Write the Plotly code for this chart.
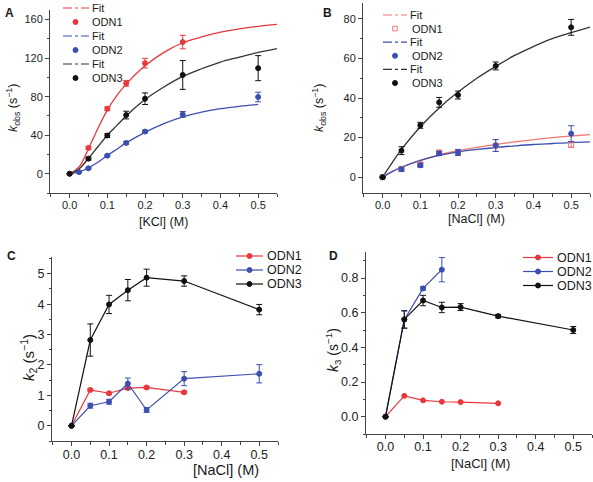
import plotly.graph_objects as go

RED = "#e8383d"
BLUE = "#3b4fb0"
BLACK = "#111111"
PINK = "#f07878"
FITBLK = "#333333"

# ---------- Panel A: KCl ----------
a_x = [0, 0.05, 0.1, 0.15, 0.2, 0.3, 0.5]
a_odn1_x = [0, 0.05, 0.1, 0.15, 0.2, 0.3]
a_odn1 = [0, 26.8, 67.5, 93.9, 114.8, 136.7]
a_odn1_err = [0, 1.5, 2, 3, 5, 7]
a_odn2_x = [0.025, 0.05, 0.1, 0.15, 0.2, 0.3, 0.5]
a_odn2 = [1.7, 5.6, 18.8, 32.0, 43.8, 61.6, 79.7]
a_odn2_err = [0.5, 0.8, 1, 1.5, 1.5, 3, 5]
a_odn3 = [0, 15.7, 39.7, 60.9, 77.9, 102.6, 109.6]
a_odn3_err = [0, 1.5, 2, 4, 6, 15, 13]
a_fit_x = [0, 0.025, 0.05, 0.075, 0.1, 0.125, 0.15, 0.2, 0.25, 0.3, 0.35, 0.4, 0.45, 0.5, 0.55]
a_fit1 = [0, 7, 26, 47, 66, 81, 93, 112, 126, 136, 142, 147, 150.5, 153, 155]
a_fit3 = [0, 5, 16, 28, 40, 50, 60, 77, 90, 101, 109, 116, 121, 126, 130]
a_fit2_x = [0, 0.025, 0.05, 0.075, 0.1, 0.125, 0.15, 0.2, 0.25, 0.3, 0.35, 0.4, 0.45, 0.5]
a_fit2 = [0, 2, 6, 12, 19, 25.5, 32, 43, 52, 59, 64, 67.5, 70, 72]

# ---------- Panel B: NaCl kobs ----------
b_x = [0, 0.05, 0.1, 0.15, 0.2, 0.3, 0.5]
b_odn1 = [0, 4.2, 6.5, 12.5, 12.5, 16.0, 16.5]
b_odn1_err = [0, 1, 1, 1, 1.5, 3, 1.5]
b_odn2 = [0, 4.0, 6.0, 12.0, 12.5, 16.0, 22.0]
b_odn2_err = [0, 1, 1, 1, 1.5, 3, 4]
b_odn3 = [0, 13.4, 26.2, 37.8, 41.5, 56.2, 75.7]
b_odn3_err = [0, 2, 1.5, 2.5, 2, 2, 4]
b_fit_x = [0, 0.025, 0.05, 0.1, 0.15, 0.2, 0.25, 0.3, 0.35, 0.4, 0.45, 0.5, 0.55]
b_fit1 = [0, 2.8, 5.0, 8.5, 11.3, 13.3, 15.0, 16.5, 17.8, 19.0, 20.0, 20.8, 21.5]
b_fit2 = [0, 2.8, 5.0, 8.5, 11.0, 12.8, 14.0, 15.0, 15.8, 16.5, 17.0, 17.5, 17.8]
b_fit3 = [0, 7.2, 14.0, 25.5, 35.0, 43.0, 50.0, 56.0, 61.5, 66.0, 70.0, 73.0, 75.8]

# ---------- Panel C: k2 ----------
c_x1 = [0, 0.05, 0.1, 0.15, 0.2, 0.3]
c_odn1 = [0, 1.18, 1.07, 1.24, 1.26, 1.10]
c_odn1_err = [0, 0.04, 0.04, 0.04, 0.04, 0.04]
c_x = [0, 0.05, 0.1, 0.15, 0.2, 0.3, 0.5]
c_odn2 = [0, 0.66, 0.79, 1.39, 0.52, 1.55, 1.71]
c_odn2_err = [0, 0.08, 0.08, 0.18, 0.08, 0.23, 0.3]
c_odn3 = [0, 2.82, 3.99, 4.46, 4.87, 4.76, 3.82]
c_odn3_err = [0, 0.53, 0.3, 0.35, 0.28, 0.17, 0.17]

# ---------- Panel D: k3 ----------
d_x1 = [0, 0.05, 0.1, 0.15, 0.2, 0.3]
d_odn1 = [0, 0.12, 0.094, 0.086, 0.084, 0.077]
d_x2 = [0, 0.05, 0.1, 0.15]
d_odn2 = [0, 0.56, 0.74, 0.848]
d_odn2_err = [0, 0.05, 0.01, 0.07]
d_x3 = [0, 0.05, 0.1, 0.15, 0.2, 0.3, 0.5]
d_odn3 = [0, 0.561, 0.67, 0.63, 0.632, 0.58, 0.50]
d_odn3_err = [0, 0.05, 0.03, 0.03, 0.02, 0.01, 0.02]

x_ticks = [0, 0.1, 0.2, 0.3, 0.4, 0.5]
x_tick_text = ["0.0", "0.1", "0.2", "0.3", "0.4", "0.5"]

FONT = "Liberation Sans, Arial, sans-serif"
W, H = 593, 482
fig = go.Figure()


def eb(arr, color):
    return dict(type="data", array=arr, visible=True, color=color, thickness=1, width=3)


def fit(x, y, color, ax):
    fig.add_trace(go.Scatter(x=x, y=y, mode="lines", line=dict(color=color, width=1.3, shape="spline"),
                             xaxis="x" + ax, yaxis="y" + ax, showlegend=False, hoverinfo="skip"))


def pts(x, y, err, color, ax, mode="markers", symbol="circle"):
    fig.add_trace(go.Scatter(x=x, y=y, mode=mode,
                             marker=dict(color=color, size=5, symbol=symbol, line=dict(color=color, width=1)),
                             line=dict(color=color, width=1.2),
                             error_y=eb(err, color) if err is not None else None,
                             xaxis="x" + ax, yaxis="y" + ax, showlegend=False))


# A
fit(a_fit_x, a_fit1, RED, "")
fit(a_fit2_x, a_fit2, BLUE, "")
fit(a_fit_x, a_fit3, FITBLK, "")
pts(a_odn1_x, a_odn1, a_odn1_err, RED, "")
pts(a_odn2_x, a_odn2, a_odn2_err, BLUE, "")
pts(a_x, a_odn3, a_odn3_err, BLACK, "")
# B
fit(b_fit_x, b_fit1, PINK, "2")
fit(b_fit_x, b_fit2, BLUE, "2")
fit(b_fit_x, b_fit3, FITBLK, "2")
pts(b_x, b_odn1, b_odn1_err, PINK, "2", symbol="square-open")
pts(b_x, b_odn2, b_odn2_err, BLUE, "2")
pts(b_x, b_odn3, b_odn3_err, BLACK, "2")
# C
pts(c_x1, c_odn1, c_odn1_err, RED, "3", mode="lines+markers")
pts(c_x, c_odn2, c_odn2_err, BLUE, "3", mode="lines+markers")
pts(c_x, c_odn3, c_odn3_err, BLACK, "3", mode="lines+markers")
# D
pts(d_x1, d_odn1, None, RED, "4", mode="lines+markers")
pts(d_x2, d_odn2, d_odn2_err, BLUE, "4", mode="lines+markers")
pts(d_x3, d_odn3, d_odn3_err, BLACK, "4", mode="lines+markers")


def xax(dom, anchor, fs, so):
    return dict(domain=dom, anchor=anchor, range=[-0.052, 0.55], tickvals=x_ticks, ticktext=x_tick_text,
                ticks="outside", ticklen=4, tickwidth=1, tickcolor="#444", ticklabelstandoff=so,
                minor=dict(dtick=0.05, tick0=0, ticks="outside", ticklen=2.5, tickcolor="#444"),
                showline=True, linecolor="#444", linewidth=1, showgrid=False, zeroline=False, automargin=False,
                tickfont=dict(size=fs, color="#222"))


def yax(dom, anchor, rng, tv, tt, minor, fs):
    return dict(domain=dom, anchor=anchor, range=rng, tickvals=tv, ticktext=tt,
                ticks="outside", ticklen=4, tickwidth=1, tickcolor="#444",
                minor=dict(dtick=minor, tick0=0, ticks="outside", ticklen=2.5, tickcolor="#444"),
                showline=True, linecolor="#444", linewidth=1, showgrid=False, zeroline=False, automargin=False,
                tickfont=dict(size=fs, color="#222"))


annotations = []
shapes = []


def text(t, x, y, size, xanchor="center", angle=0, bold=False):
    annotations.append(dict(text=("<b>%s</b>" % t) if bold else t, x=x / W, y=1 - y / H, xref="paper", yref="paper",
                            xanchor=xanchor, yanchor="middle", showarrow=False, textangle=angle,
                            font=dict(size=size, color="#1a1a1a")))


def key_line(x0, x1, y, color, dash="solid"):
    shapes.append(dict(type="line", xref="paper", yref="paper", x0=x0 / W, x1=x1 / W, y0=1 - y / H, y1=1 - y / H,
                       line=dict(color=color, width=1.2, dash=dash)))


def key_dot(x, y, color, r=2.5, filled=True, square=False):
    shapes.append(dict(type="rect" if square else "circle", xref="paper", yref="paper",
                       x0=(x - r) / W, x1=(x + r) / W, y0=1 - (y + r) / H, y1=1 - (y - r) / H,
                       fillcolor=color if filled else "rgba(0,0,0,0)", line=dict(color=color, width=1)))


# panel letters
text("A", 3, 13, 12, "left", bold=True)
text("B", 321, 13, 12, "left", bold=True)
text("C", 5, 256, 12, "left", bold=True)
text("D", 327, 256, 12, "left", bold=True)

# axis titles
kobs = "<i>k</i><sub>obs</sub> (s<sup>−1</sup>)"
text("[KCl] (M)", 163, 222, 12.5)
text(kobs, 13, 108, 12.5, angle=-90)
text("[NaCl] (M)", 476, 219, 12.5)
text(kobs, 319, 108, 12.5, angle=-90)
text("[NaCl] (M)", 226, 470, 14.5)
text("<i>k</i><sub>2</sub> (s<sup>−1</sup>)", 28, 358, 15, angle=-90)
text("[NaCl] (M)", 480, 463, 13)
text("<i>k</i><sub>3</sub> (s<sup>−1</sup>)", 333, 350, 14, angle=-90)

# legend A
leg_a = [("Fit", RED, "line"), ("ODN1", RED, "dot"), ("Fit", BLUE, "line"), ("ODN2", BLUE, "dot"),
         ("Fit", FITBLK, "line"), ("ODN3", BLACK, "dot")]
for i, (lab, col, kind) in enumerate(leg_a):
    yy = 8 + 14 * i
    if kind == "line":
        key_line(63, 89, yy, col, "dashdot")
    else:
        key_dot(75.5, yy, col)
    text(lab, 90, yy, 11, "left")

# legend B
leg_b = [("Fit", PINK, "line"), ("ODN1", PINK, "sq"), ("Fit", BLUE, "line"), ("ODN2", BLUE, "dot"),
         ("Fit", FITBLK, "line"), ("ODN3", BLACK, "dot")]
for i, (lab, col, kind) in enumerate(leg_b):
    yy = 15 + 13.6 * i
    if kind == "line":
        key_line(383, 407, yy, col, "dashdot")
        text(lab, 408, yy, 11, "left")
    else:
        if kind == "sq":
            key_dot(395, yy, col, r=2.3, filled=False, square=True)
        else:
            key_dot(395, yy, col)
        text(lab, 410, yy, 11, "left")

# legend C and D
for (x0, x1, xd, xt, y0) in [(236, 263, 249.5, 265, 256), (523, 553, 538, 555, 257.5)]:
    for i, (lab, col) in enumerate([("ODN1", RED), ("ODN2", BLUE), ("ODN3", BLACK)]):
        yy = y0 + 14 * i
        key_line(x0, x1, yy, col)
        key_dot(xd, yy, col)
        text(lab, xt, yy, 12.5, "left")

fig.update_layout(
    width=W, height=H, margin=dict(l=0, r=0, t=0, b=0, autoexpand=False),
    paper_bgcolor="white", plot_bgcolor="white",
    font=dict(family=FONT, color="#222"), showlegend=False,
    xaxis=xax([50 / W, 277 / W], "y", 11, -2),
    yaxis=yax([1 - 193 / H, 1 - 10 / H], "x", [-20, 170], [0, 40, 80, 120, 160], ["0", "40", "80", "120", "160"], 20, 11),
    xaxis2=xax([363 / W, 590 / W], "y2", 11, -2),
    yaxis2=yax([1 - 193 / H, 1 - 3 / H], "x2", [-8, 88], [0, 20, 40, 60, 80], ["0", "20", "40", "60", "80"], 10, 11),
    xaxis3=xax([52 / W, 278 / W], "y3", 12.5, -2),
    yaxis3=yax([1 - 441 / H, 1 - 257 / H], "x3", [-0.5, 5.55], [0, 1, 2, 3, 4, 5], ["0", "1", "2", "3", "4", "5"], 0.5, 12.5),
    xaxis4=xax([366 / W, 592 / W], "y4", 12.5, -3),
    yaxis4=yax([1 - 434 / H, 1 - 252 / H], "x4", [-0.1, 0.95], [0, 0.2, 0.4, 0.6, 0.8], ["0.0", "0.2", "0.4", "0.6", "0.8"], 0.1, 12.5),
    annotations=annotations,
    shapes=shapes,
)

fig.write_html("out.html", config={"displayModeBar": False},
               post_script="document.body.style.margin='0';document.body.style.overflow='hidden';")
